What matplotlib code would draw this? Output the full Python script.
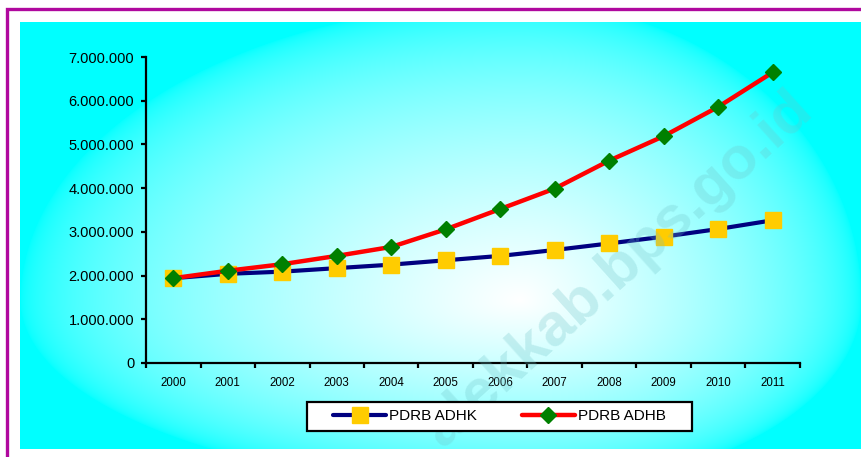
import numpy as np
import matplotlib
matplotlib.use("Agg")
import matplotlib.pyplot as plt
from matplotlib.patches import Rectangle
from matplotlib.lines import Line2D
from matplotlib.ticker import FuncFormatter, FixedLocator

plt.rcParams['font.family'] = ['Liberation Sans', 'DejaVu Sans']

# PDRB series, 2000-2011 (juta rupiah)
years = ['2000', '2001', '2002', '2003', '2004', '2005',
         '2006', '2007', '2008', '2009', '2010', '2011']
adhk = [1940000, 2040000, 2090000, 2170000, 2250000, 2350000,
        2450000, 2585000, 2735000, 2890000, 3065000, 3265000]
adhb = [1940000, 2110000, 2260000, 2450000, 2655000, 3058000,
        3523000, 3990000, 4630000, 5190000, 5860000, 6650000]

W, H = 861, 457
fig = plt.figure(figsize=(W / 100, H / 100), dpi=100)
fig.patch.set_facecolor('white')


def px(x0, y0, x1, y1):
    # pixel box (top-left origin) -> figure fraction rect
    return [x0 / W, 1 - y1 / H, (x1 - x0) / W, (y1 - y0) / H]


# cyan background with a soft white glow in the middle
bx0, by0, bx1, by1 = 20, 22, 861, 449
bg = fig.add_axes(px(bx0, by0, bx1, by1), zorder=0)
xx, yy = np.meshgrid(np.arange(bx0, bx1), np.arange(by0, by1))
cx, cy = 520, 300
rx = np.where(xx < cx, cx - bx0, bx1 - cx)
ry = np.where(yy < cy, cy - by0 + 20, by1 - cy + 40)
d = np.sqrt(((xx - cx) / rx) ** 2 + ((yy - cy) / ry) ** 2)
w = np.clip(1 - d, 0, 1) ** 0.55
img = np.zeros(xx.shape + (3,))
img[..., 0] = w
img[..., 1] = 1
img[..., 2] = 1
bg.imshow(img, aspect='auto', interpolation='bilinear')
bg.axis('off')

# purple outer frame
fig.patches.append(Rectangle((7 / W, -20 / H), (W + 20) / W, (H + 20 - 9.5) / H,
                             transform=fig.transFigure, fill=False,
                             edgecolor='#b0089e', linewidth=2.4, zorder=1))

ax = fig.add_axes(px(146, 57, 800, 363), zorder=2)
ax.patch.set_alpha(0)
x = np.arange(len(years))

ax.plot(x, adhk, color='#000080', lw=3.0, marker='s', ms=11.5,
        mfc='#ffcc00', mec='#ffcc00', solid_capstyle='round', zorder=3)
ax.plot(x, adhb, color='#ff0000', lw=3.2, marker='D', ms=8.2,
        mfc='#008000', mec='#008000', solid_capstyle='round', zorder=4)

ax.set_xlim(-0.5, len(years) - 0.5)
ax.set_ylim(0, 7000000)
ax.set_yticks(np.arange(0, 7000001, 1000000))
ax.yaxis.set_major_formatter(FuncFormatter(lambda v, p: f"{int(v):,}".replace(",", ".")))
ax.set_xticks(x)
ax.set_xticklabels(years)
ax.xaxis.set_minor_locator(FixedLocator(np.arange(-0.5, len(years), 1)))

for s in ['top', 'right']:
    ax.spines[s].set_visible(False)
for s in ['left', 'bottom']:
    ax.spines[s].set_linewidth(1.6)
ax.tick_params(axis='y', length=3.5, width=1.6, pad=5, labelsize=10.5)
ax.tick_params(axis='x', which='major', length=0, pad=10, labelsize=8.3)
ax.tick_params(axis='x', which='minor', length=3.5, width=1.6)

# site watermark (over the plot, under the legend)
fig.text(618 / W, 1 - 270 / H, 'alekkab.bps.go.id', fontsize=43,
         fontweight='bold', rotation=42, ha='center', va='center',
         color=(110 / 255, 195 / 255, 200 / 255), alpha=0.28, zorder=4)

# legend box
fig.patches.append(Rectangle((307 / W, 1 - 431 / H), 385 / W, 29 / H,
                             transform=fig.transFigure, facecolor='white',
                             edgecolor='black', linewidth=1.6, zorder=5))
handles = [
    Line2D([], [], color='#000080', lw=3.0, marker='s', ms=11.5,
           mfc='#ffcc00', mec='#ffcc00', solid_capstyle='round'),
    Line2D([], [], color='#ff0000', lw=3.2, marker='D', ms=8.2,
           mfc='#008000', mec='#008000', solid_capstyle='round'),
]
leg = fig.legend(handles, ['PDRB ADHK', 'PDRB ADHB'], loc='center',
                 bbox_to_anchor=(499.5 / W, 1 - 416.5 / H), ncol=2,
                 frameon=False, fontsize=11, handlelength=3.5,
                 handletextpad=0.2, columnspacing=2.9, numpoints=1,
                 borderpad=0, borderaxespad=0)
leg.set_zorder(6)

fig.savefig('out.png', dpi=100)
